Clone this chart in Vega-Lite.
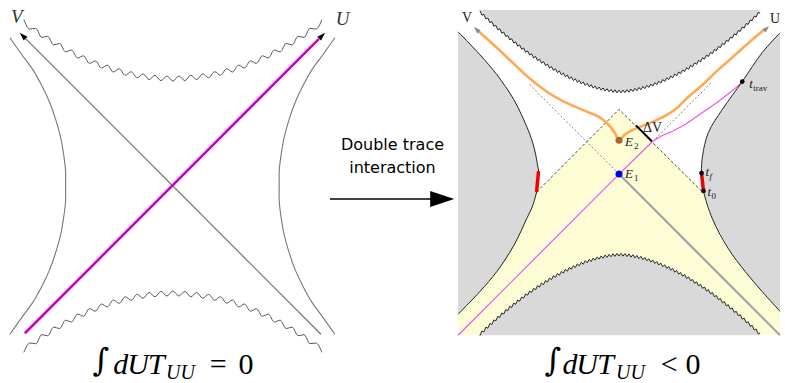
{
"$schema": "https://vega.github.io/schema/vega-lite/v6.json",
"width": 785, "height": 383,
"autosize": {"type": "fit", "contains": "padding"},
"padding": 0,
"config": {"view": {"stroke": null}},
"encoding": {
 "x": {"field": "x", "type": "quantitative", "scale": {"domain": [0, 785], "nice": false, "zero": false}, "axis": null},
 "y": {"field": "y", "type": "quantitative", "scale": {"domain": [0, 383], "reverse": true, "nice": false, "zero": false}, "axis": null}
},
"datasets": {
 "wlt": [{"x":24,"y":19.8},{"x":30,"y":29.2},{"x":36,"y":28.5},{"x":42,"y":37.6},{"x":48,"y":36.5},{"x":54,"y":45.2},{"x":60,"y":43.7},{"x":66,"y":52.1},{"x":72,"y":50.3},{"x":78,"y":58.3},{"x":84,"y":56.1},{"x":90,"y":63.7},{"x":96,"y":61.2},{"x":102,"y":68.4},{"x":108,"y":65.5},{"x":114,"y":72.4},{"x":120,"y":69.1},{"x":126,"y":75.7},{"x":132,"y":72.1},{"x":138,"y":78.2},{"x":144,"y":74.2},{"x":150,"y":80.0},{"x":156,"y":75.7},{"x":162,"y":81.1},{"x":168,"y":76.4},{"x":174,"y":81.5},{"x":180,"y":76.4},{"x":186,"y":81.1},{"x":192,"y":75.7},{"x":198,"y":80.0},{"x":204,"y":74.2},{"x":210,"y":78.2},{"x":216,"y":72.1},{"x":222,"y":75.7},{"x":228,"y":69.1},{"x":234,"y":72.4},{"x":240,"y":65.5},{"x":246,"y":68.4},{"x":252,"y":61.2},{"x":258,"y":63.7},{"x":264,"y":56.1},{"x":270,"y":58.3},{"x":276,"y":50.3},{"x":282,"y":52.1},{"x":288,"y":43.7},{"x":294,"y":45.2},{"x":300,"y":36.5},{"x":306,"y":37.6},{"x":312,"y":28.5},{"x":318,"y":29.2},{"x":324,"y":19.8}],
 "wlb": [{"x":24,"y":354.2},{"x":30,"y":344.8},{"x":36,"y":345.5},{"x":42,"y":336.4},{"x":48,"y":337.5},{"x":54,"y":328.8},{"x":60,"y":330.3},{"x":66,"y":321.9},{"x":72,"y":323.7},{"x":78,"y":315.7},{"x":84,"y":317.9},{"x":90,"y":310.3},{"x":96,"y":312.8},{"x":102,"y":305.6},{"x":108,"y":308.5},{"x":114,"y":301.6},{"x":120,"y":304.9},{"x":126,"y":298.3},{"x":132,"y":301.9},{"x":138,"y":295.8},{"x":144,"y":299.8},{"x":150,"y":294.0},{"x":156,"y":298.3},{"x":162,"y":292.9},{"x":168,"y":297.6},{"x":174,"y":292.5},{"x":180,"y":297.6},{"x":186,"y":292.9},{"x":192,"y":298.3},{"x":198,"y":294.0},{"x":204,"y":299.8},{"x":210,"y":295.8},{"x":216,"y":301.9},{"x":222,"y":298.3},{"x":228,"y":304.9},{"x":234,"y":301.6},{"x":240,"y":308.5},{"x":246,"y":305.6},{"x":252,"y":312.8},{"x":258,"y":310.3},{"x":264,"y":317.9},{"x":270,"y":315.7},{"x":276,"y":323.7},{"x":282,"y":321.9},{"x":288,"y":330.3},{"x":294,"y":328.8},{"x":300,"y":337.5},{"x":306,"y":336.4},{"x":312,"y":345.5},{"x":318,"y":344.8},{"x":324,"y":354.2}],
 "wrt": [{"x":483,"y":10.6},{"x":485,"y":15.3},{"x":487,"y":14.4},{"x":489,"y":19.1},{"x":491,"y":18.1},{"x":493,"y":22.8},{"x":495,"y":21.8},{"x":497,"y":26.4},{"x":499,"y":25.4},{"x":501,"y":30.0},{"x":503,"y":28.9},{"x":505,"y":33.4},{"x":507,"y":32.3},{"x":509,"y":36.8},{"x":511,"y":35.6},{"x":513,"y":40.1},{"x":515,"y":38.9},{"x":517,"y":43.3},{"x":519,"y":42.1},{"x":521,"y":46.4},{"x":523,"y":45.2},{"x":525,"y":49.5},{"x":527,"y":48.2},{"x":529,"y":52.5},{"x":531,"y":51.2},{"x":533,"y":55.4},{"x":535,"y":54.0},{"x":537,"y":58.2},{"x":539,"y":56.7},{"x":541,"y":60.9},{"x":543,"y":59.4},{"x":545,"y":63.5},{"x":547,"y":61.9},{"x":549,"y":66.0},{"x":551,"y":64.4},{"x":553,"y":68.5},{"x":555,"y":66.9},{"x":557,"y":70.8},{"x":559,"y":69.2},{"x":561,"y":73.1},{"x":563,"y":71.3},{"x":565,"y":75.2},{"x":567,"y":73.4},{"x":569,"y":77.2},{"x":571,"y":75.4},{"x":573,"y":79.2},{"x":575,"y":77.3},{"x":577,"y":81.0},{"x":579,"y":79.1},{"x":581,"y":82.7},{"x":583,"y":80.8},{"x":585,"y":84.4},{"x":587,"y":82.3},{"x":589,"y":85.9},{"x":591,"y":83.8},{"x":593,"y":87.3},{"x":595,"y":85.1},{"x":597,"y":88.6},{"x":599,"y":86.4},{"x":601,"y":89.7},{"x":603,"y":87.5},{"x":605,"y":90.7},{"x":607,"y":88.4},{"x":609,"y":91.6},{"x":611,"y":89.2},{"x":613,"y":92.3},{"x":615,"y":89.9},{"x":617,"y":92.9},{"x":619,"y":90.3},{"x":621,"y":93.3},{"x":623,"y":90.6},{"x":625,"y":93.4},{"x":627,"y":90.5},{"x":629,"y":93.1},{"x":631,"y":90.1},{"x":633,"y":92.7},{"x":635,"y":89.5},{"x":637,"y":92.0},{"x":639,"y":88.8},{"x":641,"y":91.2},{"x":643,"y":87.9},{"x":645,"y":90.3},{"x":647,"y":86.9},{"x":649,"y":89.2},{"x":651,"y":85.8},{"x":653,"y":87.9},{"x":655,"y":84.5},{"x":657,"y":86.6},{"x":659,"y":83.1},{"x":661,"y":85.1},{"x":663,"y":81.6},{"x":665,"y":83.6},{"x":667,"y":79.9},{"x":669,"y":81.9},{"x":671,"y":78.2},{"x":673,"y":80.1},{"x":675,"y":76.4},{"x":677,"y":78.2},{"x":679,"y":74.4},{"x":681,"y":76.2},{"x":683,"y":72.4},{"x":685,"y":74.1},{"x":687,"y":70.3},{"x":689,"y":72.0},{"x":691,"y":68.0},{"x":693,"y":69.7},{"x":695,"y":65.7},{"x":697,"y":67.2},{"x":699,"y":63.2},{"x":701,"y":64.7},{"x":703,"y":60.7},{"x":705,"y":62.2},{"x":707,"y":58.1},{"x":709,"y":59.5},{"x":711,"y":55.4},{"x":713,"y":56.8},{"x":715,"y":52.6},{"x":717,"y":54.0},{"x":719,"y":49.7},{"x":721,"y":51.0},{"x":723,"y":46.7},{"x":725,"y":48.0},{"x":727,"y":43.6},{"x":729,"y":44.9},{"x":731,"y":40.5},{"x":733,"y":41.7},{"x":735,"y":37.3},{"x":737,"y":38.4},{"x":739,"y":34.0},{"x":741,"y":35.1},{"x":743,"y":30.6},{"x":745,"y":31.7},{"x":747,"y":27.2},{"x":749,"y":28.2},{"x":751,"y":23.6},{"x":753,"y":24.6},{"x":755,"y":20.0},{"x":757,"y":20.9},{"x":759,"y":16.3},{"x":761,"y":17.2},{"x":763,"y":12.5},{"x":765,"y":13.4}],
 "wrb": [{"x":483,"y":337.4},{"x":485,"y":332.7},{"x":487,"y":333.6},{"x":489,"y":328.9},{"x":491,"y":329.9},{"x":493,"y":325.2},{"x":495,"y":326.2},{"x":497,"y":321.6},{"x":499,"y":322.6},{"x":501,"y":318.0},{"x":503,"y":319.1},{"x":505,"y":314.6},{"x":507,"y":315.7},{"x":509,"y":311.2},{"x":511,"y":312.4},{"x":513,"y":307.9},{"x":515,"y":309.1},{"x":517,"y":304.7},{"x":519,"y":305.9},{"x":521,"y":301.6},{"x":523,"y":302.8},{"x":525,"y":298.5},{"x":527,"y":299.8},{"x":529,"y":295.5},{"x":531,"y":296.8},{"x":533,"y":292.6},{"x":535,"y":294.0},{"x":537,"y":289.8},{"x":539,"y":291.3},{"x":541,"y":287.1},{"x":543,"y":288.6},{"x":545,"y":284.5},{"x":547,"y":286.1},{"x":549,"y":282.0},{"x":551,"y":283.6},{"x":553,"y":279.5},{"x":555,"y":281.1},{"x":557,"y":277.2},{"x":559,"y":278.8},{"x":561,"y":274.9},{"x":563,"y":276.7},{"x":565,"y":272.8},{"x":567,"y":274.6},{"x":569,"y":270.8},{"x":571,"y":272.6},{"x":573,"y":268.8},{"x":575,"y":270.7},{"x":577,"y":267.0},{"x":579,"y":268.9},{"x":581,"y":265.3},{"x":583,"y":267.2},{"x":585,"y":263.6},{"x":587,"y":265.7},{"x":589,"y":262.1},{"x":591,"y":264.2},{"x":593,"y":260.7},{"x":595,"y":262.9},{"x":597,"y":259.4},{"x":599,"y":261.6},{"x":601,"y":258.3},{"x":603,"y":260.5},{"x":605,"y":257.3},{"x":607,"y":259.6},{"x":609,"y":256.4},{"x":611,"y":258.8},{"x":613,"y":255.7},{"x":615,"y":258.1},{"x":617,"y":255.1},{"x":619,"y":257.7},{"x":621,"y":254.7},{"x":623,"y":257.4},{"x":625,"y":254.6},{"x":627,"y":257.5},{"x":629,"y":254.9},{"x":631,"y":257.9},{"x":633,"y":255.3},{"x":635,"y":258.5},{"x":637,"y":256.0},{"x":639,"y":259.2},{"x":641,"y":256.8},{"x":643,"y":260.1},{"x":645,"y":257.7},{"x":647,"y":261.1},{"x":649,"y":258.8},{"x":651,"y":262.2},{"x":653,"y":260.1},{"x":655,"y":263.5},{"x":657,"y":261.4},{"x":659,"y":264.9},{"x":661,"y":262.9},{"x":663,"y":266.4},{"x":665,"y":264.4},{"x":667,"y":268.1},{"x":669,"y":266.1},{"x":671,"y":269.8},{"x":673,"y":267.9},{"x":675,"y":271.6},{"x":677,"y":269.8},{"x":679,"y":273.6},{"x":681,"y":271.8},{"x":683,"y":275.6},{"x":685,"y":273.9},{"x":687,"y":277.7},{"x":689,"y":276.0},{"x":691,"y":280.0},{"x":693,"y":278.3},{"x":695,"y":282.3},{"x":697,"y":280.8},{"x":699,"y":284.8},{"x":701,"y":283.3},{"x":703,"y":287.3},{"x":705,"y":285.8},{"x":707,"y":289.9},{"x":709,"y":288.5},{"x":711,"y":292.6},{"x":713,"y":291.2},{"x":715,"y":295.4},{"x":717,"y":294.0},{"x":719,"y":298.3},{"x":721,"y":297.0},{"x":723,"y":301.3},{"x":725,"y":300.0},{"x":727,"y":304.4},{"x":729,"y":303.1},{"x":731,"y":307.5},{"x":733,"y":306.3},{"x":735,"y":310.7},{"x":737,"y":309.6},{"x":739,"y":314.0},{"x":741,"y":312.9},{"x":743,"y":317.4},{"x":745,"y":316.3},{"x":747,"y":320.8},{"x":749,"y":319.8},{"x":751,"y":324.4},{"x":753,"y":323.4},{"x":755,"y":328.0},{"x":757,"y":327.1},{"x":759,"y":331.7},{"x":761,"y":330.8},{"x":763,"y":335.5},{"x":765,"y":334.6}],
 "yel": [{"x":461,"y":193},{"x":540,"y":193},{"x":623,"y":110},{"x":708,"y":193},{"x":785,"y":193}],
 "lensL": [{"x":461,"y":32,"y2":316},{"x":483,"y":55,"y2":293},{"x":500,"y":75,"y2":273},{"x":517,"y":100,"y2":247},{"x":530,"y":127,"y2":220},{"x":536,"y":143,"y2":207},{"x":539,"y":155,"y2":197},{"x":541,"y":166,"y2":193},{"x":542,"y":172,"y2":186}],
 "lensR": [{"x":706,"y":173,"y2":186},{"x":707,"y":157,"y2":189},{"x":708,"y":153,"y2":192},{"x":713,"y":133,"y2":207},{"x":717,"y":126,"y2":220},{"x":727,"y":110,"y2":238},{"x":733,"y":102,"y2":250},{"x":747,"y":82,"y2":269},{"x":750,"y":78,"y2":273},{"x":767,"y":53,"y2":293},{"x":785,"y":33,"y2":313}],
 "rb": [{"g":1,"x":461,"y":32},{"g":1,"x":483,"y":55},{"g":1,"x":500,"y":75},{"g":1,"x":517,"y":100},{"g":1,"x":530,"y":127},{"g":1,"x":536,"y":143},{"g":1,"x":539,"y":155},{"g":1,"x":541,"y":166},{"g":1,"x":542,"y":172},{"g":1,"x":541,"y":183},{"g":1,"x":540,"y":193},{"g":1,"x":539,"y":197},{"g":1,"x":536,"y":207},{"g":1,"x":530,"y":220},{"g":1,"x":517,"y":247},{"g":1,"x":500,"y":273},{"g":1,"x":483,"y":293},{"g":1,"x":461,"y":316},
        {"g":2,"x":785,"y":33},{"g":2,"x":767,"y":53},{"g":2,"x":747,"y":82},{"g":2,"x":727,"y":110},{"g":2,"x":713,"y":133},{"g":2,"x":707,"y":157},{"g":2,"x":706,"y":173},{"g":2,"x":707,"y":183},{"g":2,"x":708,"y":192},{"g":2,"x":717,"y":220},{"g":2,"x":733,"y":250},{"g":2,"x":750,"y":273},{"g":2,"x":767,"y":293},{"g":2,"x":785,"y":313}],
 "lb": [{"g":1,"x":10,"y":38},{"g":1,"x":22,"y":55},{"g":1,"x":33,"y":70},{"g":1,"x":42,"y":86},{"g":1,"x":50,"y":103},{"g":1,"x":56,"y":120},{"g":1,"x":61,"y":138},{"g":1,"x":64,"y":155},{"g":1,"x":66,"y":172},{"g":1,"x":66,"y":187},{"g":1,"x":66,"y":202},{"g":1,"x":64,"y":219},{"g":1,"x":61,"y":236},{"g":1,"x":56,"y":254},{"g":1,"x":50,"y":271},{"g":1,"x":42,"y":288},{"g":1,"x":33,"y":304},{"g":1,"x":22,"y":319},{"g":1,"x":10,"y":336},
        {"g":2,"x":337,"y":38},{"g":2,"x":325,"y":55},{"g":2,"x":314,"y":70},{"g":2,"x":305,"y":86},{"g":2,"x":297,"y":103},{"g":2,"x":291,"y":120},{"g":2,"x":286,"y":138},{"g":2,"x":283,"y":155},{"g":2,"x":281,"y":172},{"g":2,"x":281,"y":187},{"g":2,"x":281,"y":202},{"g":2,"x":283,"y":219},{"g":2,"x":286,"y":236},{"g":2,"x":291,"y":254},{"g":2,"x":297,"y":271},{"g":2,"x":305,"y":288},{"g":2,"x":314,"y":304},{"g":2,"x":325,"y":319},{"g":2,"x":337,"y":336}],
 "orange": [{"x":481,"y":31},{"x":500,"y":48},{"x":517,"y":64},{"x":532,"y":78},{"x":550,"y":92},{"x":567,"y":102},{"x":590,"y":112},{"x":605,"y":119},{"x":614,"y":127},{"x":619,"y":134},{"x":623,"y":141},{"x":628,"y":136},{"x":636,"y":131},{"x":648,"y":126},{"x":660,"y":121},{"x":672,"y":115},{"x":682,"y":108},{"x":690,"y":100},{"x":705,"y":87},{"x":723,"y":70},{"x":740,"y":55},{"x":757,"y":40},{"x":770,"y":29}],
 "mag": [{"x":461,"y":337},{"x":623,"y":175},{"x":657,"y":142},{"x":665,"y":137},{"x":677,"y":132},{"x":690,"y":125},{"x":707,"y":113},{"x":723,"y":102},{"x":736,"y":92},{"x":747,"y":83}]
},
"layer": [
 {"data": {"name": "yel"}, "mark": {"type": "area", "color": "#fdfdd5", "interpolate": "linear"}, "encoding": {"y2": {"datum": 337}}},
 {"data": {"name": "wrt"}, "mark": {"type": "area", "color": "#d9d9d9", "interpolate": "linear"}, "encoding": {"y2": {"datum": 10}}},
 {"data": {"name": "wrb"}, "mark": {"type": "area", "color": "#d9d9d9", "interpolate": "linear"}, "encoding": {"y2": {"datum": 337}}},
 {"data": {"name": "lensL"}, "mark": {"type": "area", "color": "#d9d9d9", "interpolate": "monotone"}, "encoding": {"y2": {"field": "y2"}}},
 {"data": {"name": "lensR"}, "mark": {"type": "area", "color": "#d9d9d9", "interpolate": "monotone"}, "encoding": {"y2": {"field": "y2"}}},
 {"data": {"values": [{"g":1,"x":533,"y":85},{"g":1,"x":623,"y":175},{"g":2,"x":657,"y":142},{"g":2,"x":716,"y":83}]}, "mark": {"type": "line", "color": "#8a8a8a", "strokeWidth": 1, "strokeDash": [2, 2]}, "encoding": {"detail": {"field": "g"}}},
 {"data": {"values": [{"x":623,"y":175},{"x":785,"y":337}]}, "mark": {"type": "line", "color": "#a3a3a3", "strokeWidth": 2.2}, "encoding": {}},
 {"data": {"values": [{"x":540,"y":193},{"x":623,"y":110},{"x":708,"y":194}]}, "mark": {"type": "line", "color": "#222", "strokeWidth": 0.8, "strokeDash": [3, 2]}, "encoding": {}},
 {"data": {"name": "mag"}, "mark": {"type": "line", "color": "#ee55ee", "strokeWidth": 1.2}, "encoding": {"order": {"value": null}}},
 {"data": {"name": "orange"}, "mark": {"type": "line", "color": "#ffa955", "strokeWidth": 2.6, "interpolate": "monotone"}, "encoding": {}},
 {"data": {"name": "rb"}, "mark": {"type": "line", "color": "#222", "strokeWidth": 1, "interpolate": "catmull-rom"}, "encoding": {"detail": {"field": "g"}, "order": {"value": null}}},
 {"data": {"values": [{"g":1,"x":542,"y":172},{"g":1,"x":540,"y":193},{"g":2,"x":706,"y":174},{"g":2,"x":708,"y":192}]}, "mark": {"type": "line", "color": "#ee0000", "strokeWidth": 3.5}, "encoding": {"detail": {"field": "g"}}},
 {"data": {"name": "wrt"}, "mark": {"type": "line", "color": "#111", "strokeWidth": 0.9, "interpolate": "linear"}, "encoding": {}},
 {"data": {"name": "wrb"}, "mark": {"type": "line", "color": "#111", "strokeWidth": 0.9, "interpolate": "linear"}, "encoding": {}},
 {"data": {"values": [{"x":640,"y":126},{"x":656,"y":142}]}, "mark": {"type": "line", "color": "#000", "strokeWidth": 2}, "encoding": {}},
 {"data": {"values": [{"x":623,"y":175}]}, "mark": {"type": "point", "shape": "circle", "filled": true, "opacity": 1, "color": "#0000ee", "size": 50}, "encoding": {}},
 {"data": {"values": [{"x":623,"y":141}]}, "mark": {"type": "point", "shape": "circle", "filled": true, "opacity": 1, "color": "#9c6b30", "size": 50}, "encoding": {}},
 {"data": {"values": [{"x":747,"y":82},{"x":706,"y":174},{"x":708,"y":192}]}, "mark": {"type": "point", "shape": "circle", "filled": true, "opacity": 1, "color": "#000", "size": 22}, "encoding": {}},
 {"data": {"values": [{"x":479.5,"y":29.5}]}, "mark": {"type": "point", "shape": "M1,0L-1,-0.65L-1,0.65Z", "filled": true, "opacity": 1, "color": "#888", "size": 49, "angle": 225, "strokeWidth": 0}, "encoding": {}},
 {"data": {"values": [{"x":771.5,"y":28.5}]}, "mark": {"type": "point", "shape": "M1,0L-1,-0.65L-1,0.65Z", "filled": true, "opacity": 1, "color": "#888", "size": 49, "angle": 315, "strokeWidth": 0}, "encoding": {}},

 {"data": {"name": "wlt"}, "mark": {"type": "line", "color": "#555", "strokeWidth": 1, "interpolate": "monotone"}, "encoding": {}},
 {"data": {"name": "wlb"}, "mark": {"type": "line", "color": "#555", "strokeWidth": 1, "interpolate": "monotone"}, "encoding": {}},
 {"data": {"name": "lb"}, "mark": {"type": "line", "color": "#777", "strokeWidth": 1.1, "interpolate": "catmull-rom"}, "encoding": {"detail": {"field": "g"}, "order": {"value": null}}},
 {"data": {"values": [{"x":24,"y":37},{"x":323,"y":336}]}, "mark": {"type": "line", "color": "#707070", "strokeWidth": 1.2}, "encoding": {}},
 {"data": {"values": [{"x":25,"y":335},{"x":321,"y":39}]}, "mark": {"type": "line", "color": "#cc00cc", "strokeWidth": 2.6}, "encoding": {}},
 {"data": {"values": [{"x":22.8,"y":35.8}]}, "mark": {"type": "point", "shape": "M1,0L-1,-0.65L-1,0.65Z", "filled": true, "opacity": 1, "color": "#000", "size": 70, "angle": 225, "strokeWidth": 0}, "encoding": {}},
 {"data": {"values": [{"x":324.2,"y":35.8}]}, "mark": {"type": "point", "shape": "M1,0L-1,-0.65L-1,0.65Z", "filled": true, "opacity": 1, "color": "#000", "size": 70, "angle": 315, "strokeWidth": 0}, "encoding": {}},

 {"data": {"values": [{"x":332,"y":200},{"x":440,"y":200}]}, "mark": {"type": "line", "color": "#000", "strokeWidth": 1.6}, "encoding": {}},
 {"data": {"values": [{"x":445,"y":200}]}, "mark": {"type": "point", "shape": "M1,0L-1,-0.67L-1,0.67Z", "filled": true, "opacity": 1, "color": "#000", "size": 576, "angle": 0, "strokeWidth": 0}, "encoding": {}},
 {"data": {"values": [{"x":395,"y":151,"t":"Double trace"},{"x":395,"y":174,"t":"interaction"}]}, "mark": {"type": "text", "font": "DejaVu Sans", "fontSize": 16, "align": "center", "baseline": "alphabetic", "color": "#000"}, "encoding": {"text": {"field": "t"}}},

 {"data": {"values": [{"x":11,"y":23,"t":"V"},{"x":338,"y":25,"t":"U"}]}, "mark": {"type": "text", "font": "Liberation Serif", "fontStyle": "italic", "fontSize": 19, "align": "left", "baseline": "alphabetic", "color": "#333"}, "encoding": {"text": {"field": "t"}}},
 {"data": {"values": [{"x":93,"y":373,"t":"∫"},{"x":548,"y":373,"t":"∫"}]}, "mark": {"type": "text", "font": "DejaVu Serif", "fontSize": 32, "align": "left", "baseline": "alphabetic", "color": "#000"}, "encoding": {"text": {"field": "t"}}},
 {"data": {"values": [{"x":114,"y":376,"t":"d"},{"x":128,"y":376,"t":"U"},{"x":149,"y":376,"t":"T"},{"x":566,"y":376,"t":"d"},{"x":580,"y":376,"t":"U"},{"x":601,"y":376,"t":"T"}]}, "mark": {"type": "text", "font": "Liberation Serif", "fontStyle": "italic", "fontSize": 30, "align": "left", "baseline": "alphabetic", "color": "#000"}, "encoding": {"text": {"field": "t"}}},
 {"data": {"values": [{"x":167,"y":381,"t":"UU"},{"x":620,"y":381,"t":"UU"}]}, "mark": {"type": "text", "font": "Liberation Serif", "fontStyle": "italic", "fontSize": 20, "align": "left", "baseline": "alphabetic", "color": "#000"}, "encoding": {"text": {"field": "t"}}},
 {"data": {"values": [{"x":211,"y":376,"t":"="},{"x":240,"y":376,"t":"0"},{"x":665,"y":376,"t":"<"},{"x":690,"y":376,"t":"0"}]}, "mark": {"type": "text", "font": "Liberation Serif", "fontSize": 30, "align": "left", "baseline": "alphabetic", "color": "#000"}, "encoding": {"text": {"field": "t"}}},

 {"data": {"values": [{"x":465,"y":22,"t":"V"},{"x":775,"y":23,"t":"U"},{"x":647,"y":133,"t":"ΔV"}]}, "mark": {"type": "text", "font": "Liberation Serif", "fontSize": 14, "align": "left", "baseline": "alphabetic", "color": "#222"}, "encoding": {"text": {"field": "t"}}},
 {"data": {"values": [{"x":629,"y":147,"t":"E"},{"x":629,"y":179,"t":"E"},{"x":754,"y":88,"t":"t"},{"x":710,"y":177,"t":"t"},{"x":712,"y":197,"t":"t"}]}, "mark": {"type": "text", "font": "Liberation Serif", "fontStyle": "italic", "fontSize": 13, "align": "left", "baseline": "alphabetic", "color": "#222"}, "encoding": {"text": {"field": "t"}}},
 {"data": {"values": [{"x":638,"y":150,"t":"2"},{"x":638,"y":182,"t":"1"},{"x":758,"y":91,"t":"trav"},{"x":716,"y":200,"t":"0"}]}, "mark": {"type": "text", "font": "Liberation Serif", "fontSize": 9, "align": "left", "baseline": "alphabetic", "color": "#222"}, "encoding": {"text": {"field": "t"}}},
 {"data": {"values": [{"x":714,"y":180,"t":"f"}]}, "mark": {"type": "text", "font": "Liberation Serif", "fontStyle": "italic", "fontSize": 9, "align": "left", "baseline": "alphabetic", "color": "#222"}, "encoding": {"text": {"field": "t"}}}
]
}
